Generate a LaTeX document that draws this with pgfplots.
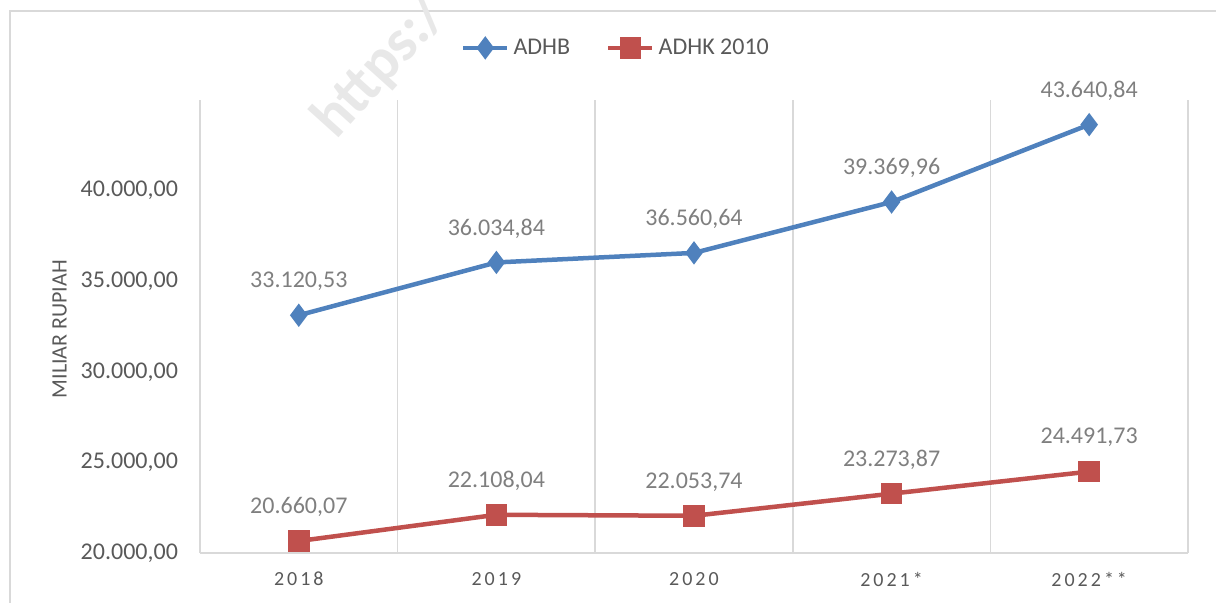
\documentclass[border=0pt]{standalone}
\usepackage{fontspec}
\setmainfont{Carlito}
\newfontfamily\spaced[LetterSpace=15]{Carlito}
\usepackage{pgfplots}
\pgfplotsset{compat=1.18}
\definecolor{adhb}{HTML}{4F81BD}
\definecolor{adhk}{HTML}{C0504D}
\definecolor{txt}{HTML}{595959}
\definecolor{lbl}{HTML}{7F7F7F}
\definecolor{grd}{HTML}{D9D9D9}
\begin{document}
\begin{tikzpicture}
\path[use as bounding box] (0,0) rectangle (608pt,301.5pt);
\clip (0,0) rectangle (608pt,301.5pt);
\draw[grd, line width=1pt] (5pt,-5pt) -- (5pt,296pt) -- (620pt,296pt);
\node[rotate=48, anchor=base west, text=black!9, inner sep=0pt, font=\bfseries\fontsize{30}{36}\selectfont] at (168pt,231pt) {https:/};
\begin{axis}[
 at={(100pt,25pt)}, anchor=south west,
 scale only axis, width=494pt, height=226.5pt,
 xmin=-0.5, xmax=4.5, ymin=20000, ymax=45000,
 scaled y ticks=false,
 xtick={0,...,4}, xticklabels={2018,2019,2020,2021*,2022**},
 minor xtick={-0.5,0.5,...,4.5},
 xminorgrids, minor grid style={grd, line width=0.8pt},
 ytick={20000,25000,...,40000},
 yticklabels={{20.000,00},{25.000,00},{30.000,00},{35.000,00},{40.000,00}},
 axis x line*=bottom, axis y line*=left,
 y axis line style={draw=none},
 x axis line style={grd, line width=1pt, -},
 tick style={draw=none},
 yticklabel style={font=\fontsize{12}{14}\selectfont, text=txt, xshift=-7.5pt},
 xticklabel style={font=\spaced\fontsize{10}{12}\selectfont, text=txt, yshift=-6pt},
 ylabel={MILIAR RUPIAH},
 ylabel style={font=\fontsize{11}{13}\selectfont, text=txt, at={(axis description cs:-0.142,0.494)}, anchor=center},
 legend style={at={(axis description cs:0.422,1.115)}, anchor=center, draw=none, fill=none,
   legend columns=2, font=\fontsize{12}{14}\selectfont, text=txt,
   /tikz/every even column/.append style={column sep=16pt}},
 legend image code/.code={\draw[mark repeat=2,mark phase=2,#1] plot coordinates {(0pt,0pt) (11pt,0pt) (22pt,0pt)};},
 every node near coord/.append style={font=\fontsize{12}{14}\selectfont, text=lbl, anchor=center, yshift=17pt},
 clip=false,
]
\addplot[adhb, line width=2.25pt, mark=diamond*, mark size=4pt, mark options={solid},
  nodes near coords, point meta=explicit symbolic] coordinates {
 (0,33120.53) [33.120,53]
 (1,36034.84) [36.034,84]
 (2,36560.64) [36.560,64]
 (3,39369.96) [39.369,96]
 (4,43640.84) [43.640,84]
};
\addlegendentry{ADHB}
\addplot[adhk, line width=2.25pt, mark=square*, mark size=4.25pt, mark options={solid},
  nodes near coords, point meta=explicit symbolic] coordinates {
 (0,20660.07) [20.660,07]
 (1,22108.04) [22.108,04]
 (2,22053.74) [22.053,74]
 (3,23273.87) [23.273,87]
 (4,24491.73) [24.491,73]
};
\addlegendentry{ADHK 2010}
\end{axis}
\end{tikzpicture}
\end{document}
